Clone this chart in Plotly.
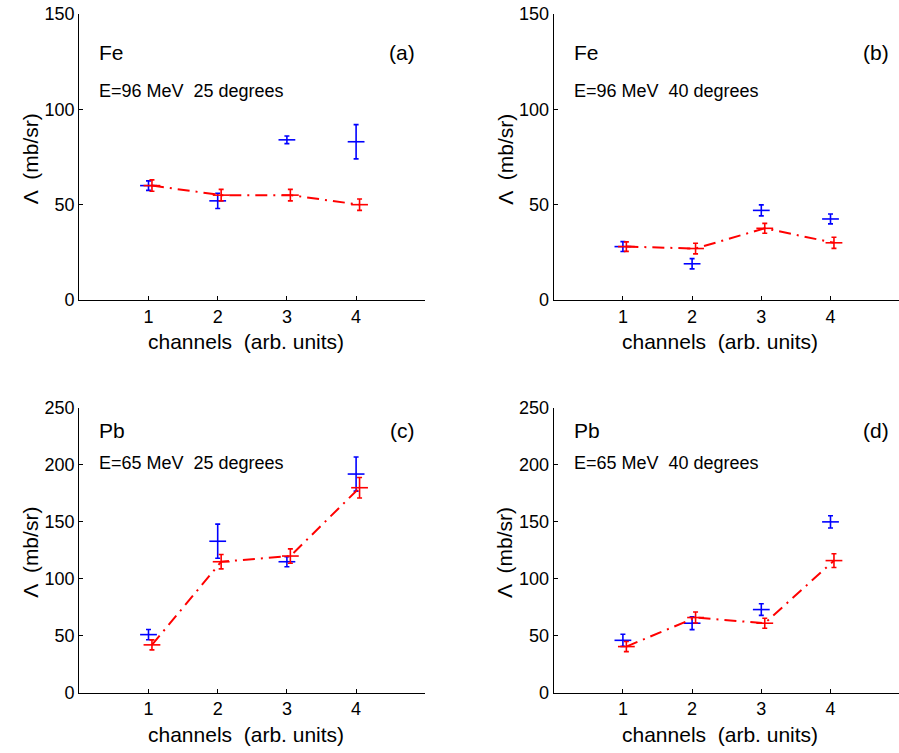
import plotly.graph_objects as go

# ---------------- data ----------------
channels = [1, 2, 3, 4]

# panel (a) Fe, E=96 MeV, 25 degrees
a_blue = [60, 52, 84, 83]
a_blue_err = [2.5, 4, 2, 9]
a_red = [60, 55, 55, 50]
a_red_err = [3, 3, 3, 3]

# panel (b) Fe, E=96 MeV, 40 degrees
b_blue = [28, 19, 47, 42.5]
b_blue_err = [2.6, 2.7, 2.9, 2.6]
b_red = [28, 27, 37.6, 30]
b_red_err = [2.5, 2.8, 2.6, 2.9]

# panel (c) Pb, E=65 MeV, 25 degrees
c_blue = [51, 133, 115, 192]
c_blue_err = [4.5, 15, 4.4, 15]
c_red = [42, 115, 120, 180]
c_red_err = [4.4, 6.3, 6.3, 9]

# panel (d) Pb, E=65 MeV, 40 degrees
d_blue = [46, 61, 73, 150]
d_blue_err = [5.3, 5.6, 5.1, 5.4]
d_red = [40.5, 66, 61, 116]
d_red_err = [4.4, 4.8, 4.4, 6]

x_tick_vals = [1, 2, 3, 4]
x_tick_text = ["1", "2", "3", "4"]
y_ticks_top = [0, 50, 100, 150]
y_ticks_bottom = [0, 50, 100, 150, 200, 250]

element_labels = ["Fe", "Fe", "Pb", "Pb"]
condition_labels = ["E=96 MeV  25 degrees", "E=96 MeV  40 degrees",
                    "E=65 MeV  25 degrees", "E=65 MeV  40 degrees"]
panel_labels = ["(a)", "(b)", "(c)", "(d)"]
x_title = "channels  (arb. units)"
y_title = "\u039b  (mb/sr)"

# ---------------- layout constants ----------------
W, H = 899, 753
FONT = "Liberation Sans, Arial, Helvetica, sans-serif"
BLUE = "rgb(0,0,255)"
RED = "rgb(255,0,0)"
RED_SHIFT = 0.05

# panel pixel boxes (left, right, top, bottom)
boxes = [
    (79.3, 425.3, 14.0, 300.0),
    (553.7, 899.0, 14.0, 300.0),
    (79.3, 425.3, 408.0, 692.7),
    (553.7, 899.0, 408.0, 692.7),
]
xranges = [[0, 5], [0, 345.3 / 346.0 * 5], [0, 5], [0, 345.3 / 346.0 * 5]]
yranges = [[0, 150], [0, 150], [0, 250], [0, 250]]
yticks = [y_ticks_top, y_ticks_top, y_ticks_bottom, y_ticks_bottom]

panels = [
    (a_blue, a_blue_err, a_red, a_red_err),
    (b_blue, b_blue_err, b_red, b_red_err),
    (c_blue, c_blue_err, c_red, c_red_err),
    (d_blue, d_blue_err, d_red, d_red_err),
]

fig = go.Figure()
annotations = []

for i, (box, (bv, be, rv, re)) in enumerate(zip(boxes, panels)):
    n = "" if i == 0 else str(i + 1)
    xa, ya = "x" + n, "y" + n
    l, r, t, b = box
    xdom = [l / W, r / W]
    ydom = [1 - b / H, 1 - t / H]

    # blue points
    fig.add_trace(go.Scatter(
        x=channels, y=bv, xaxis=xa, yaxis=ya, mode="markers",
        marker=dict(symbol="line-ew", size=12, color=BLUE,
                    line=dict(color=BLUE, width=1.6)),
        error_y=dict(type="data", array=be, visible=True, color=BLUE,
                     thickness=1.6, width=2.5),
        showlegend=False, hoverinfo="skip", cliponaxis=False))

    # red points + dash-dot line
    fig.add_trace(go.Scatter(
        x=[c + RED_SHIFT for c in channels], y=rv, xaxis=xa, yaxis=ya,
        mode="lines+markers",
        line=dict(color=RED, width=2, dash="12px,6px,2px,6px"),
        marker=dict(symbol="line-ew", size=12, color=RED,
                    line=dict(color=RED, width=1.6)),
        error_y=dict(type="data", array=re, visible=True, color=RED,
                     thickness=1.6, width=2.5),
        showlegend=False, hoverinfo="skip", cliponaxis=False))

    axis_common = dict(showgrid=False, zeroline=False, showline=True,
                       linecolor="black", linewidth=1.2, ticks="inside",
                       ticklen=4, tickcolor="black", tickwidth=1,
                       automargin=False,
                       tickfont=dict(family=FONT, size=18, color="black"))
    fig.update_layout(**{
        ("xaxis" + n): dict(domain=xdom, range=xranges[i], anchor=ya,
                            tickvals=x_tick_vals, ticktext=x_tick_text,
                            **axis_common),
        ("yaxis" + n): dict(domain=ydom, range=yranges[i], anchor=xa,
                            tickvals=yticks[i], **axis_common),
    })

    if i < 2:
        y_el, y_cond = t + 38.7, t + 76.7
    else:
        y_el, y_cond = 430.7, 463.3
    annotations.append(dict(
        xref="paper", yref="paper", x=(l + 18.0) / W, y=1 - y_el / H,
        xanchor="left", yanchor="middle", showarrow=False,
        text=element_labels[i], font=dict(family=FONT, size=21, color="black")))
    annotations.append(dict(
        xref="paper", yref="paper", x=(l + 18.0) / W, y=1 - y_cond / H,
        xanchor="left", yanchor="middle", showarrow=False,
        text=condition_labels[i], font=dict(family=FONT, size=18, color="black")))
    annotations.append(dict(
        xref="paper", yref="paper", x=(l + 337.5) / W,
        y=1 - y_el / H, xanchor="right", yanchor="middle", showarrow=False,
        text=panel_labels[i], font=dict(family=FONT, size=21, color="black")))
    # axis titles
    annotations.append(dict(
        xref="paper", yref="paper", x=((l + 173.0) - 6.5) / W,
        y=1 - (b + 41.7) / H, xanchor="center", yanchor="middle",
        showarrow=False, text=x_title,
        font=dict(family=FONT, size=21, color="black")))
    annotations.append(dict(
        xref="paper", yref="paper", x=(l - 49.0) / W,
        y=1 - ((t + b) / 2 + 2) / H, xanchor="center", yanchor="middle",
        showarrow=False, text=y_title, textangle=-90,
        font=dict(family=FONT, size=21, color="black")))

fig.update_layout(
    width=W, height=H,
    margin=dict(l=0, r=0, t=0, b=0, autoexpand=False),
    paper_bgcolor="white", plot_bgcolor="white",
    annotations=annotations,
    showlegend=False,
)

fig.write_html(
    "out.html",
    config={"displayModeBar": False},
    post_script="document.body.style.margin='0';"
                "document.body.style.overflow='hidden';",
)
